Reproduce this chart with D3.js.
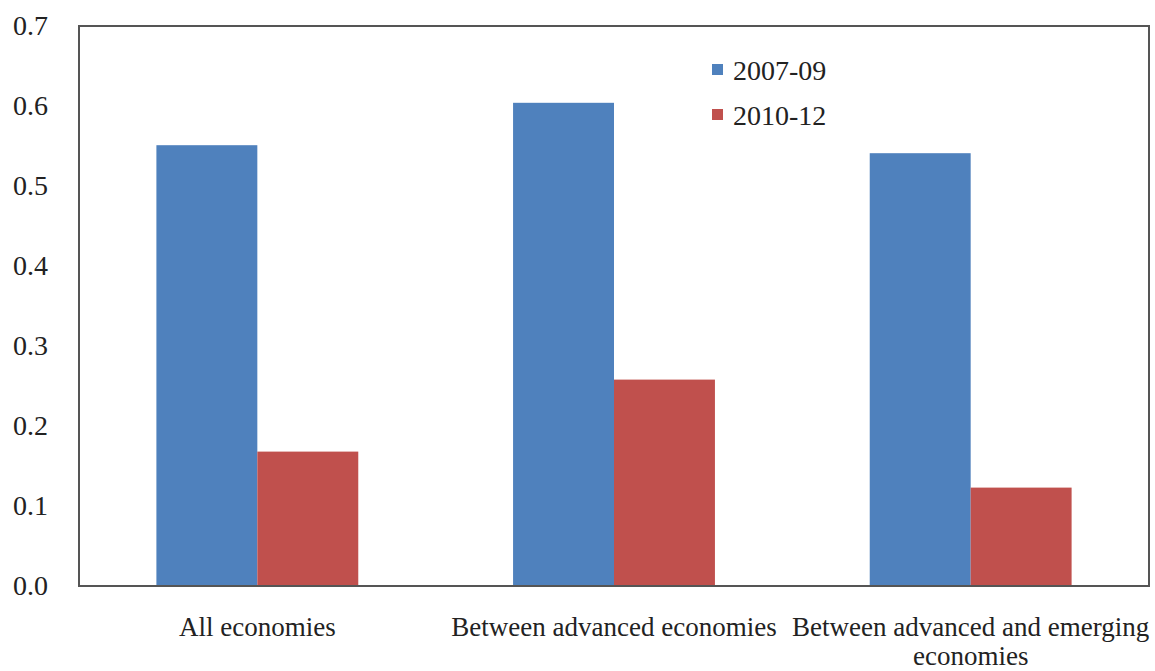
<!DOCTYPE html>
<html>
<head>
<meta charset="utf-8">
<script src="https://cdnjs.cloudflare.com/ajax/libs/d3/7.8.5/d3.min.js"></script>
<style>
  body { margin: 0; background: #fff; }
  text { font-family: "Liberation Serif", "Times New Roman", serif; fill: #222; }
</style>
</head>
<body>
<div id="main"></div>
<script>
const ctx = { w: 1155, h: 671 };
const margin = { top: 26, right: 6, bottom: 85, left: 79 };

// data
const categories = ['All economies', 'Between advanced economies', 'Between advanced and emerging economies'];
const catLines = [['All economies'], ['Between advanced economies'], ['Between advanced and emerging', 'economies']];
const series = ['2007-09', '2010-12'];
const values0709 = [0.551, 0.604, 0.541];
const values1012 = [0.168, 0.258, 0.123];
const yTicks = [0, 0.1, 0.2, 0.3, 0.4, 0.5, 0.6, 0.7];
const colors = ['#4F81BD', '#C0504D'];

const colorScale = d3.scaleOrdinal().domain(series).range(colors);

function createViz() {
    const svg = d3.select('#main').append('svg')
        .attr('width', ctx.w)
        .attr('height', ctx.h);

    const innerW = ctx.w - margin.left - margin.right;
    const innerH = ctx.h - margin.top - margin.bottom;

    const g = svg.append('g')
        .attr('transform', `translate(${margin.left},${margin.top})`);

    const x0 = d3.scaleBand().domain(categories).range([0, innerW]).padding(0);
    const bw = x0.bandwidth();
    const gap = bw * 0.217;
    const x1 = d3.scaleBand().domain(series).range([gap, bw - gap]).padding(0);
    const y = d3.scaleLinear().domain([0, 0.7]).range([innerH, 0]);

    const rows = categories.map((c, i) => ({ cat: c, vals: [values0709[i], values1012[i]] }));

    // bars
    const groups = g.selectAll('.grp')
        .data(rows)
        .enter().append('g')
        .attr('class', 'grp')
        .attr('transform', d => `translate(${x0(d.cat)},0)`);

    groups.selectAll('rect')
        .data(d => series.map((s, j) => ({ s: s, v: d.vals[j] })))
        .enter().append('rect')
        .attr('x', d => x1(d.s))
        .attr('y', d => y(d.v))
        .attr('width', x1.bandwidth())
        .attr('height', d => innerH - y(d.v))
        .attr('fill', d => colorScale(d.s));

    // frame
    g.append('rect')
        .attr('x', 0).attr('y', 0)
        .attr('width', innerW).attr('height', innerH)
        .attr('fill', 'none')
        .attr('stroke', '#555')
        .attr('stroke-width', 2);

    // y axis labels
    const yAxis = d3.axisLeft(y).tickValues(yTicks).tickFormat(d3.format('.1f')).tickSize(0).tickPadding(31);
    const ya = g.append('g').call(yAxis);
    ya.select('.domain').remove();
    ya.selectAll('text')
        .style('font-family', '"Liberation Serif", serif')
        .style('font-size', '28px')
        .attr('fill', '#222');

    // category labels
    const xl = g.append('g').attr('transform', `translate(0,${innerH})`);
    catLines.forEach((lines, i) => {
        const t = xl.append('text')
            .attr('x', x0(categories[i]) + bw / 2)
            .attr('y', 50)
            .attr('text-anchor', 'middle')
            .style('font-size', '27px');
        lines.forEach((ln, k) => {
            t.append('tspan')
                .attr('x', x0(categories[i]) + bw / 2)
                .attr('dy', k === 0 ? 0 : 29)
                .text(ln);
        });
    });

    // legend
    const legend = g.selectAll('.legend')
        .data(series)
        .enter().append('g')
        .attr('class', 'legend')
        .attr('transform', (d, i) => `translate(633,${38 + i * 45})`);

    legend.append('rect')
        .attr('width', 11).attr('height', 11)
        .attr('fill', colorScale);

    legend.append('text')
        .attr('x', 21)
        .attr('y', 16)
        .style('font-size', '28px')
        .text(d => d);
}

createViz();
</script>
</body>
</html>
